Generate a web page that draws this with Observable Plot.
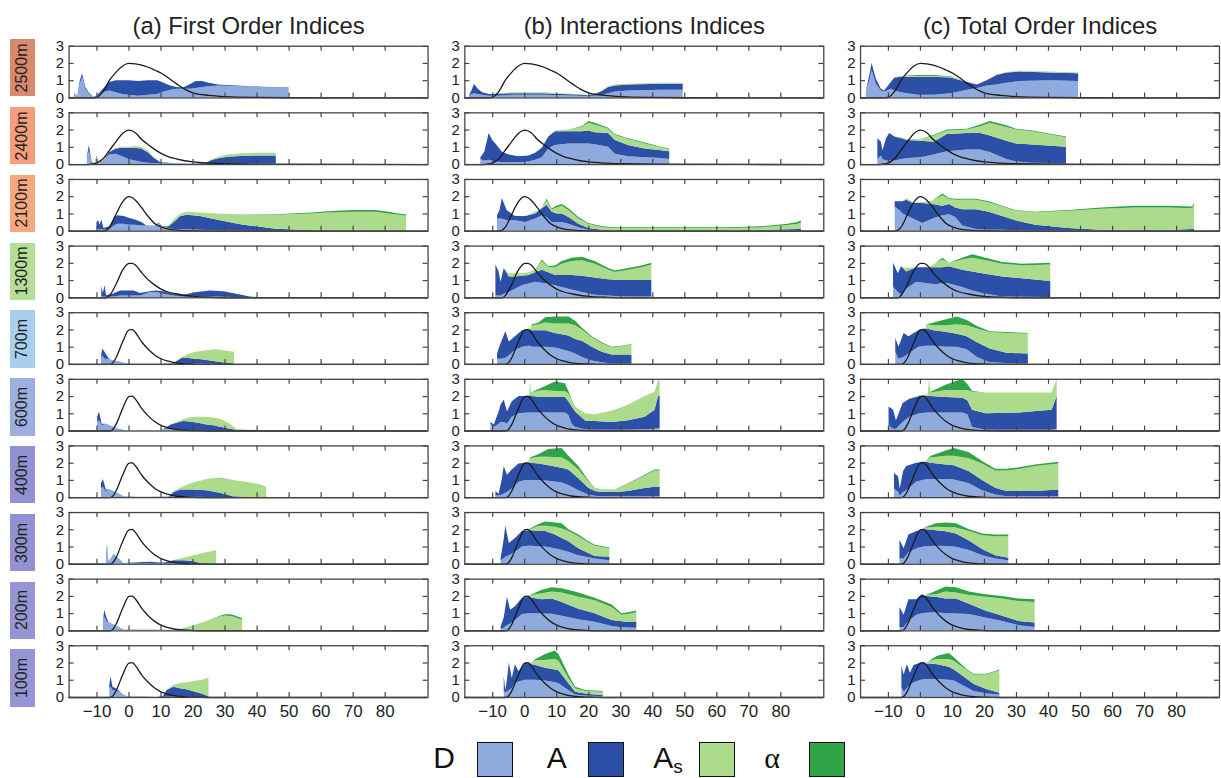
<!DOCTYPE html>
<html>
<head>
<meta charset="utf-8">
<script src="https://cdn.jsdelivr.net/npm/d3@7"></script>
<script src="https://cdn.jsdelivr.net/npm/@observablehq/plot@0.6"></script>
<style>
  html, body { margin: 0; padding: 0; background: #fff; overflow: hidden; }
  body { font-family: "Liberation Sans", Arial, sans-serif; }
  #wrap { position: relative; width: 1221px; height: 778px; overflow: hidden; }
  #chart { position: absolute; left: 0; top: 0; }
  .rowlab { position: absolute; left: 10px; width: 25px; display: flex; align-items: center; justify-content: center; }
  .rowlab span { transform: rotate(-90deg); white-space: nowrap; font-family: "Liberation Sans", Arial, sans-serif; font-size: 16px; line-height: 16px; color: #222; }
  .leglab { position: absolute; font-family: "Liberation Sans", Arial, sans-serif; font-size: 30px; line-height: 30px; color: #111; white-space: nowrap; }
  .legbox { position: absolute; width: 34px; height: 33px; border: 1.5px solid #111; }
</style>
</head>
<body>
<div id="wrap"><div id="chart"></div></div>
<script>
// ---------------- data ----------------
const columns = ["a", "b", "c"];
const columnTitles = ["(a) First Order Indices", "(b) Interactions Indices", "(c) Total Order Indices"];
const altitudes = ["2500m", "2400m", "2100m", "1300m", "700m", "600m", "400m", "300m", "200m", "100m"];
const altitudeColors = ["#d98a6e", "#f59d7c", "#f8a880", "#b7de97", "#a9cff0", "#9bb0df", "#9292d2", "#9292d2", "#9595d3", "#9595d3"];
const seriesNames = ["D", "A", "As", "α"];
const seriesColors = ["#8fabdd", "#2c4fa8", "#acdb8c", "#31a447"];
const xTicks = [-10, 0, 10, 20, 30, 40, 50, 60, 70, 80];
const yTicks = [0, 1, 2, 3];

// each row: [time, D, A, As, α]  (stacked contributions)
const first2500 = [[-17,0.3,0,0,0],[-16,0.1,0,0,0],[-15.2,0.8,0.2,0,0],[-14.5,1.2,0.2,0,0],[-13.5,0.5,0.1,0,0],[-12.5,0.25,0.05,0,0],[-11,0.05,0,0,0],[-10,0.05,0.05,0,0],[-8,0.3,0.2,0,0],[-6,0.4,0.5,0,0],[-4,0.3,0.7,0,0],[-2,0.2,0.8,0,0],[0,0.15,0.85,0,0],[3,0.1,0.85,0,0],[6,0.15,0.85,0,0],[9,0.2,0.8,0,0],[11,0.35,0.5,0,0],[13,0.45,0.25,0,0],[15,0.5,0.1,0,0],[17,0.5,0.08,0,0],[19,0.5,0.25,0,0],[21,0.55,0.4,0,0],[23,0.6,0.35,0,0],[25,0.65,0.2,0,0],[28,0.7,0.05,0,0],[35,0.65,0.03,0,0],[42,0.6,0.02,0,0],[50,0.55,0.02,0,0]];
const first2400 = [[-13,0.3,0.1,0,0],[-12.4,0.8,0.3,0,0],[-11.5,0.1,0.05,0,0],[-10.5,0,0,0,0],[-10,0.4,0.1,0,0],[-9.5,0,0,0,0],[-7.5,0.3,0,0,0],[-6,0.55,0.15,0,0],[-4,0.6,0.3,0.02,0],[-2,0.45,0.5,0.05,0],[0,0.3,0.65,0.05,0],[2,0.2,0.75,0.1,0],[4,0.12,0.78,0.1,0],[6,0.08,0.6,0.1,0],[8,0.05,0.3,0.05,0],[10,0.05,0.05,0,0],[15,0.05,0,0,0],[20,0.03,0,0,0],[24,0.02,0.05,0,0],[26,0.03,0.2,0.05,0],[28,0.03,0.3,0.1,0],[31,0.05,0.38,0.12,0],[35,0.05,0.42,0.15,0],[40,0.05,0.45,0.15,0],[46,0.05,0.45,0.15,0]];
const first2100 = [[-10,0.3,0.2,0,0],[-9.5,0.1,0.5,0,0],[-9,0.05,0.3,0,0],[-8.5,0.1,0.55,0,0],[-7.8,0.05,0.1,0,0],[-6,0.1,0.15,0,0],[-4.5,0.3,0.5,0,0],[-3.5,0.4,0.5,0,0],[-1.5,0.4,0.45,0,0],[0,0.35,0.4,0,0],[2,0.35,0.3,0,0],[4,0.3,0.2,0,0],[5.5,0.3,0.02,0,0],[8,0.3,0,0,0],[9.5,0.5,0,0,0],[10.5,0.25,0,0,0],[12.5,0.15,0.1,0.05,0],[14.4,0.1,0.45,0.15,0],[16.2,0.1,0.75,0.15,0],[18.2,0.08,0.85,0.17,0],[22.3,0.05,0.8,0.2,0],[28.5,0.03,0.57,0.38,0],[35.8,0.02,0.33,0.6,0],[46,0.01,0.1,0.82,0.02],[57.5,0,0.02,0.98,0.05],[62,0,0,1.05,0.07],[70,0,0,1.1,0.1],[77,0,0,1.1,0.1],[81.3,0,0,1.0,0.1],[84,0,0,0.92,0.08],[86.7,0,0,0.9,0.05]];
const first1300 = [[-8.5,0.05,0.6,0,0],[-8,0.05,0.2,0,0],[-7.5,0.05,0.65,0,0],[-7,0.02,0.1,0,0],[-5,0.05,0.15,0,0],[-2.6,0.1,0.3,0,0],[1.6,0.1,0.3,0,0],[3.6,0.1,0.15,0,0],[6.7,0.3,0.05,0,0],[8.7,0.3,0.1,0,0],[10.8,0.2,0.15,0,0],[14,0.1,0.1,0,0],[17.1,0.05,0.1,0,0],[21.3,0.05,0.25,0,0],[25.4,0.05,0.35,0,0],[29.6,0.03,0.32,0,0],[33.7,0.02,0.18,0,0],[37.8,0,0.05,0,0],[40,0,0.01,0,0]];
const first700 = [[-8.6,0.3,0.1,0,0],[-8.2,0.5,0.4,0,0],[-7.5,0.3,0.4,0,0],[-6.5,0.3,0.1,0,0],[-5.7,0.25,0,0,0],[-3,0.15,0,0,0],[-1,0.05,0,0,0],[2,0.02,0,0,0],[10,0.02,0,0,0],[13.5,0.02,0.03,0,0],[14.6,0.02,0.1,0.02,0],[16.7,0.02,0.33,0.05,0],[18.7,0.02,0.32,0.25,0],[20.8,0.02,0.28,0.4,0],[22.8,0.02,0.25,0.48,0],[27,0.01,0.15,0.7,0],[31.1,0,0.05,0.7,0],[33,0,0.02,0.68,0]];
const first600 = [[-9.8,0.5,0.3,0,0],[-9.2,0.6,0.5,0,0],[-8.4,0.3,0.1,0,0],[-7,0.4,0,0,0],[-5,0.25,0,0,0],[-3,0.1,0,0,0],[-1,0.02,0,0,0],[10,0.02,0,0,0],[11.5,0.1,0.05,0,0],[13.2,0.1,0.25,0,0],[15,0.05,0.4,0.05,0],[17.1,0.03,0.52,0.1,0],[19,0.02,0.5,0.23,0],[21.3,0.02,0.45,0.33,0],[24,0.01,0.36,0.43,0],[26.5,0,0.3,0.45,0],[29,0,0.2,0.45,0],[31.7,0,0.1,0.3,0],[33.7,0,0.05,0.05,0],[36,0,0.04,0,0],[42,0,0.02,0,0]];
const first400 = [[-8.6,0.5,0.3,0,0],[-8,0.6,0.45,0,0],[-7,0.3,0.1,0,0],[-6.5,0.5,0,0,0],[-4,0.3,0,0,0],[-1.5,0.05,0,0,0],[5,0.02,0,0,0],[12.5,0.02,0.02,0,0],[14.1,0.03,0.27,0.05,0],[16.2,0.03,0.42,0.1,0],[18,0.02,0.43,0.25,0],[20.2,0.02,0.43,0.4,0],[24.4,0.01,0.39,0.65,0],[28.5,0,0.25,0.85,0.02],[32.6,0,0.05,0.95,0],[36.7,0,0.02,0.88,0],[40.9,0,0.01,0.74,0],[43,0,0.01,0.6,0]];
const first300 = [[-7,0.5,0.1,0,0],[-6.7,0.9,0.2,0,0],[-6.3,0.1,0.05,0,0],[-5.6,0.3,0,0,0],[-4.7,0.6,0,0,0],[-3,0.3,0,0,0],[-1.5,0.05,0,0,0],[4.6,0.02,0.08,0,0],[7,0.02,0.1,0,0],[9.8,0.02,0.05,0,0],[11.1,0.02,0.05,0,0],[14.1,0.02,0.18,0.02,0],[17.2,0.01,0.19,0.15,0],[20.3,0.01,0.14,0.35,0],[22.5,0,0.05,0.55,0],[26.4,0,0.02,0.73,0],[27.4,0,0.02,0.78,0]];
const first200 = [[-8,0.3,0.1,0,0],[-7.6,0.8,0.4,0,0],[-6.8,0.5,0.2,0,0],[-6.3,0.5,0,0,0],[-4,0.3,0,0,0],[-1.5,0.05,0,0,0],[5,0.05,0,0,0],[12,0.03,0,0,0],[14.1,0.02,0.01,0,0],[16.2,0.01,0.03,0.06,0],[20.2,0,0.03,0.27,0],[24.4,0,0.02,0.53,0],[28.5,0,0.02,0.8,0.03],[30.6,0,0.02,0.85,0.08],[32.6,0,0.02,0.78,0.1],[35.5,0,0.02,0.6,0.08]];
const first100 = [[-6,0.5,0.2,0,0],[-5.6,0.6,0.6,0,0],[-5,0.4,0.2,0,0],[-4,0.4,0.1,0,0],[-2,0.2,0,0,0],[-0.5,0.05,0,0,0],[5,0.05,0,0,0],[9,0.02,0,0,0],[10.8,0.02,0.05,0,0],[11.9,0.02,0.38,0.05,0],[14,0.02,0.58,0.1,0],[16,0.01,0.5,0.3,0],[18,0.01,0.44,0.4,0],[22.8,0,0.2,0.8,0],[25,0,0.05,1.05,0.02]];

const inter2500 = [[-17.3,0.1,0,0,0],[-16.5,0.2,0.2,0,0],[-15.7,0.25,0.55,0,0],[-14.5,0.2,0.3,0,0],[-13.2,0.15,0.15,0,0],[-11,0.1,0.1,0,0],[-9,0.1,0.1,0.05,0],[-3.8,0.15,0.1,0.05,0],[1.3,0.15,0.1,0.05,0],[6,0.15,0.1,0.05,0],[11.7,0.12,0.08,0.05,0],[16.9,0.1,0.07,0.03,0],[20,0.08,0.05,0.02,0],[22,0.1,0.1,0.02,0],[24.2,0.15,0.22,0.03,0],[26.2,0.25,0.35,0.05,0],[28.3,0.35,0.35,0.05,0],[32.4,0.4,0.35,0.05,0],[42.8,0.45,0.35,0.05,0],[49.5,0.45,0.35,0.05,0]];
const inter2400 = [[-13.7,0.3,0.1,0,0],[-12.5,0.2,0.5,0,0],[-11.1,0.25,1.55,0,0],[-10,0.2,1.2,0,0],[-9,0.15,1.05,0,0],[-6.9,0.1,0.6,0,0],[-4.8,0.1,0.45,0,0],[-1.8,0.1,0.35,0,0],[1.3,0.15,0.35,0,0],[3.4,0.25,0.4,0,0],[5.5,0.4,0.55,0.02,0],[7.5,0.9,0.7,0.03,0],[9.6,1.1,0.8,0.05,0],[13.8,1.2,0.7,0.1,0],[18,1.2,0.7,0.25,0.05],[20,1.2,0.75,0.45,0.1],[22,1.15,0.7,0.45,0.1],[26.2,1.0,0.8,0.25,0.05],[28.3,0.6,0.8,0.3,0.05],[32.4,0.45,0.65,0.35,0.05],[37.6,0.4,0.5,0.3,0.05],[42.8,0.35,0.45,0.18,0.02],[45.3,0.3,0.45,0.13,0.02]];
const inter2100 = [[-8.5,0.7,0.2,0,0],[-7.7,0.7,0.5,0,0],[-7,0.7,1.2,0,0],[-5.5,0.6,0.6,0,0],[-2.9,0.6,0.25,0,0],[0.3,0.5,0.35,0,0],[3.4,0.7,0.3,0.1,0],[5.5,0.9,0.4,0.05,0],[7,0.8,0.7,0.25,0.1],[8.6,0.5,0.6,0.15,0.05],[10.1,0.5,0.5,0.35,0.1],[11.7,0.5,0.5,0.45,0.1],[13.8,0.4,0.4,0.4,0.1],[16.9,0.2,0.2,0.3,0.1],[20,0.05,0.1,0.25,0.05],[24.2,0.02,0.03,0.15,0.05],[28.3,0.02,0.01,0.12,0.05],[42.8,0.02,0.01,0.12,0.05],[63.5,0.02,0.01,0.12,0.05],[73.9,0.02,0.02,0.15,0.06],[82.2,0.03,0.05,0.25,0.07],[85.3,0.03,0.07,0.3,0.1],[86.4,0.03,0.1,0.35,0.12]];
const inter1300 = [[-9,0.1,1.8,0,0],[-8,0.1,1.4,0,0],[-7.4,0.1,0.8,0,0],[-6.4,0.2,1.5,0,0],[-4.8,0.3,0.9,0.2,0],[-2.9,0.5,0.7,0.2,0],[-0.8,0.7,0.55,0.15,0],[1.3,0.8,0.5,0.15,0],[3.4,0.9,0.55,0.15,0],[5.5,0.85,0.75,0.5,0.1],[7.5,0.8,0.65,0.3,0.05],[9.6,0.7,0.6,0.45,0.1],[11.7,0.6,0.7,0.65,0.15],[14.8,0.45,0.85,0.8,0.2],[18,0.3,0.95,0.9,0.2],[22,0.15,1.0,0.8,0.15],[26.2,0.1,0.95,0.55,0.1],[28.3,0.07,0.95,0.45,0.08],[32.4,0.05,0.95,0.6,0.1],[36.6,0.05,0.95,0.75,0.1],[39.7,0.05,0.95,0.9,0.1]];
const inter700 = [[-8.5,0.3,0.3,0,0],[-7.4,0.3,0.9,0,0],[-5.9,0.35,1.55,0,0],[-4.8,0.5,0.8,0,0],[-2.9,0.8,0.8,0,0],[-0.7,1.0,0.95,0,0],[1.3,1.05,0.95,0.05,0],[2,1.05,0.95,0.1,0],[2.4,1.0,0.95,0.3,0.05],[4.5,1.0,0.95,0.35,0.1],[6.5,1.0,0.95,0.45,0.3],[9.6,0.95,0.85,0.55,0.4],[13.8,0.75,0.9,0.7,0.4],[15.9,0.6,0.85,0.8,0.25],[18,0.4,0.95,0.65,0.1],[21.1,0.2,0.8,0.55,0.05],[24.2,0.1,0.6,0.5,0.05],[27.3,0.03,0.52,0.42,0.03],[30.4,0.02,0.53,0.47,0.03],[33.5,0.02,0.53,0.57,0.03]];
const inter600 = [[-10.6,0.4,0.1,0,0],[-9.5,0.2,0.15,0,0],[-8,0.4,0.7,0,0],[-7.4,0.5,1.0,0,0],[-6.4,0.5,1.3,0,0],[-5.4,0.4,0.7,0,0],[-3.9,0.8,0.9,0,0],[-1.8,1.0,1.0,0,0],[1.3,1.05,0.95,0,0],[1.6,1.05,0.95,0.2,0],[1.8,1.05,0.95,0.9,0],[2.1,1.05,0.95,0.2,0],[5.5,1.05,0.9,0.4,0.15],[9.6,1.05,0.9,0.35,0.55],[12.7,1.05,0.9,0.35,0.45],[13.8,0.9,0.8,0.45,0.15],[14.8,0.4,1.0,0.35,0.05],[15.9,0.2,0.9,0.3,0],[19,0.08,0.5,0.42,0],[22,0.05,0.5,0.4,0],[27.3,0.05,0.45,0.65,0],[32.4,0.05,0.55,0.9,0],[37.6,0.07,0.73,1.2,0],[40.7,0.1,1.1,1.05,0],[41.8,0.15,1.85,0.9,0],[42.3,0.15,1.9,0.85,0]];
const inter400 = [[-9,0.1,0.25,0,0],[-8,0.1,0.1,0,0],[-7,0.15,0.9,0,0],[-6.4,0.2,1.6,0,0],[-5.4,0.3,1.0,0,0],[-3.9,0.5,1.1,0,0],[-1.8,0.9,1.05,0,0],[0.3,1.0,1.0,0,0],[1.3,1.0,1.0,0.05,0],[1.8,1.0,1.0,0.25,0.05],[4.5,1.0,0.95,0.4,0.15],[7.5,0.95,0.9,0.5,0.45],[11.7,0.85,0.85,0.6,0.55],[13.8,0.7,0.9,0.5,0.3],[16.9,0.4,0.7,0.5,0.2],[20,0.15,0.4,0.4,0.05],[22,0.08,0.27,0.18,0.02],[24.2,0.05,0.25,0.13,0.02],[28.3,0.05,0.25,0.13,0.02],[32.4,0.05,0.3,0.42,0.03],[36.6,0.05,0.45,0.65,0.05],[40.7,0.05,0.55,0.95,0.05],[42.3,0.05,0.55,0.95,0.05]];
const inter300 = [[-7.4,0.2,0.1,0,0],[-6.5,0.3,1.0,0,0],[-5.9,0.4,1.8,0,0],[-4.8,0.5,0.7,0,0],[-2.9,0.7,0.8,0,0],[-0.7,1.0,0.9,0,0],[1.3,1.05,0.9,0.05,0],[2.4,1.05,0.9,0.1,0.05],[4.5,1.0,0.9,0.3,0.1],[6.5,1.0,0.9,0.3,0.25],[9.6,0.9,0.8,0.45,0.25],[11.7,0.8,0.7,0.55,0.3],[13.8,0.7,0.6,0.6,0.1],[16.9,0.5,0.4,0.7,0.1],[20,0.38,0.25,0.6,0.07],[22,0.3,0.15,0.6,0.05],[26.6,0.2,0.2,0.5,0.05]];
const inter200 = [[-7.4,0.1,0.1,0,0],[-6.4,0.15,0.6,0,0],[-5.4,0.3,1.65,0,0],[-4.4,0.4,0.8,0,0],[-2.9,0.6,0.8,0,0],[-0.7,0.95,0.95,0,0],[1.3,1.0,0.95,0.05,0],[2.4,1.0,0.9,0.15,0.05],[5.5,0.98,0.82,0.35,0.2],[8.6,0.96,0.89,0.4,0.25],[11.7,0.85,0.8,0.55,0.25],[16.9,0.65,0.6,0.7,0.25],[22,0.5,0.5,0.75,0.15],[27.3,0.25,0.35,0.75,0.15],[30.4,0.18,0.35,0.37,0.1],[32.4,0.16,0.34,0.45,0.1],[35,0.15,0.35,0.55,0.1]];
const inter100 = [[-6.4,0.3,0.9,0,0],[-5.9,0.3,0.1,0,0],[-5.4,0.3,0.7,0,0],[-4.8,0.4,1.6,0,0],[-3.9,0.5,0.6,0,0],[-2.9,0.8,1.1,0,0],[-1.8,0.9,0.6,0,0],[0.3,1.0,1.0,0,0],[2.4,1.0,0.9,0.1,0],[3.5,1.0,0.85,0.3,0.05],[6.5,0.95,0.75,0.45,0.35],[9.6,0.85,0.75,0.6,0.5],[10.7,0.8,0.75,0.55,0.4],[13.8,0.4,0.4,0.3,0.2],[15.9,0.15,0.15,0.2,0.1],[19,0.08,0.12,0.15,0.05],[24.6,0.05,0.05,0.2,0.05]];

const total2500 = [[-16.9,0.4,0,0,0],[-15.8,1.0,0.3,0,0],[-15.1,1.6,0.4,0,0],[-13.8,0.8,0.3,0,0],[-12.2,0.4,0.1,0,0],[-11.2,0.35,0.05,0,0],[-9.1,0.5,0.4,0,0],[-8,0.4,0.75,0.02,0],[-6,0.3,0.9,0.05,0],[-0.8,0.15,1.05,0.05,0.05],[4.3,0.15,1.05,0.05,0.05],[9.5,0.25,0.9,0.05,0.03],[14.7,0.45,0.45,0,0],[17.8,0.55,0.2,0,0],[20.8,0.7,0.3,0.02,0],[23.9,0.75,0.55,0.02,0],[27,0.85,0.6,0.03,0],[31.2,0.95,0.55,0.05,0],[40.5,1.0,0.45,0.05,0],[49.4,0.95,0.45,0.05,0]];
const total2400 = [[-13.3,0.3,1.2,0,0],[-12.2,0.5,0.8,0,0],[-11.7,0.3,0.5,0,0],[-10.6,0.2,1.3,0,0],[-9.6,0.2,1.6,0,0],[-8,0.2,1.4,0,0],[-5.9,0.3,1.2,0.05,0],[-3.9,0.35,1.05,0.05,0],[0.2,0.4,0.95,0.1,0],[4.3,0.55,0.75,0.35,0.05],[8.4,0.75,1.0,0.2,0.05],[14.7,0.85,0.95,0.2,0.05],[18.8,0.85,0.95,0.4,0.1],[21.8,0.7,0.95,0.75,0.1],[27,0.3,1.05,0.8,0.1],[30,0.15,1.05,0.8,0.05],[35.2,0.08,1.05,0.77,0.05],[45.6,0.05,0.95,0.55,0.05]];
const total2100 = [[-7.9,1.4,0.3,0,0],[-6.5,1.2,0.5,0,0],[-5.4,1.0,0.7,0,0],[-4.3,0.9,0.9,0.1,0],[-2.2,0.7,0.9,0.05,0],[0.8,0.45,1.15,0.05,0],[3.9,0.7,0.85,0.2,0],[7,0.9,0.55,0.6,0.1],[9.1,0.95,0.6,0.3,0.05],[11,0.8,0.55,0.45,0.05],[13.2,0.3,0.95,0.55,0.05],[17.4,0.1,1.15,0.55,0.05],[21.5,0.05,1.05,0.55,0.05],[25.7,0.05,0.8,0.55,0.05],[29.8,0.03,0.57,0.57,0.03],[36,0.02,0.33,0.72,0.03],[46.3,0.02,0.13,1.0,0.05],[56.6,0.02,0.03,1.22,0.08],[67,0.02,0.02,1.31,0.1],[77.3,0.02,0.02,1.31,0.1],[85,0.02,0.08,1.2,0.1],[85.6,0.02,0.1,1.4,0.08]];
const total1300 = [[-8.4,0.6,1.4,0,0],[-6.9,0.3,1.1,0,0],[-5.9,0.15,1.65,0,0],[-4.3,0.5,1.0,0.2,0],[-1.2,0.9,0.85,0,0],[2.9,0.8,0.95,0,0],[5,0.75,1.0,0.25,0],[7,0.85,0.9,0.45,0.1],[9.1,0.8,1.0,0.2,0],[13.2,0.6,1.0,0.6,0.1],[16.3,0.4,1.1,0.8,0.2],[19.4,0.25,1.15,0.8,0.15],[25.7,0.05,1.15,0.75,0.1],[31.8,0.03,1.07,0.75,0.1],[40.7,0.02,0.93,0.95,0.1]];
const total700 = [[-7.7,0.7,0.8,0,0],[-6.7,0.3,0.7,0,0],[-5.1,0.4,1.4,0,0],[-3.6,0.6,1.0,0,0],[-0.5,1.0,0.95,0.05,0],[1.8,1.05,1.0,0.05,0],[2,1.05,1.0,0.25,0],[4.3,1.05,0.9,0.3,0.15],[8.4,1.0,0.85,0.4,0.35],[11.5,1.0,0.75,0.55,0.45],[14.6,0.85,0.75,0.65,0.3],[17.8,0.4,0.85,0.8,0.15],[21.8,0.1,0.8,0.95,0.05],[27,0.05,0.6,1.15,0.05],[33.7,0.02,0.58,1.15,0.05]];
const total600 = [[-9.8,0.3,1.1,0,0],[-8.4,0.1,1.1,0,0],[-7.5,0.1,0.5,0,0],[-5.4,0.5,1.1,0,0],[-3.3,0.8,1.05,0,0],[-0.2,1.0,1.0,0.05,0],[2.4,1.05,0.95,0.1,0],[2.9,1.05,0.95,1.0,0],[3.3,1.05,0.95,0.2,0.05],[8,1.05,0.9,0.4,0.3],[13.2,1.05,0.85,0.45,0.65],[14.8,0.95,0.8,0.6,0.35],[16.3,0.2,1.0,1.05,0.05],[20.4,0.05,0.95,1.2,0],[30.8,0.05,1.0,1.15,0],[41.1,0.05,1.15,1.0,0],[42.7,0.1,1.9,1.0,0]];
const total400 = [[-8.1,0.5,0.9,0,0],[-6.8,0.3,0.9,0,0],[-6.3,0.1,0.4,0,0],[-5.3,0.3,1.2,0,0],[-4.3,0.4,1.4,0,0],[-1.2,0.9,1.1,0,0],[0.8,1.0,1.05,0.05,0],[1.9,1.05,1.0,0.05,0],[3.4,1.05,0.95,0.3,0.1],[8,1.05,0.85,0.5,0.3],[10.6,1.02,0.83,0.55,0.45],[15.3,0.8,0.7,0.75,0.35],[19.4,0.4,0.6,0.95,0.15],[23.5,0.15,0.4,1.0,0.1],[27,0.05,0.3,1.2,0.1],[29.8,0.05,0.3,1.25,0.1],[36,0.05,0.3,1.45,0.1],[43.2,0.05,0.4,1.5,0.1]];
const total300 = [[-6.4,0.3,1.1,0,0],[-5.1,0.3,0.6,0,0],[-3.6,0.65,1.05,0,0],[-1.1,0.9,1.0,0,0],[1,1.0,1.0,0.05,0],[1.9,1.02,0.98,0.1,0.05],[5,1.05,0.9,0.2,0.2],[8,1.03,0.85,0.25,0.27],[11.2,0.98,0.77,0.35,0.25],[15.3,0.8,0.55,0.55,0.1],[19.4,0.5,0.35,0.8,0.1],[23.5,0.3,0.2,1.1,0.1],[27.6,0.2,0.15,1.25,0.1]];
const total200 = [[-6.4,0.2,1.15,0,0],[-5.1,0.2,0.7,0,0],[-3.6,0.55,1.25,0,0],[-1.1,0.9,0.9,0,0],[0.5,1.0,1.1,0,0],[1.9,1.02,0.98,0.05,0],[5,1.05,0.9,0.15,0.2],[8,1.0,0.85,0.4,0.3],[11.2,0.98,0.87,0.35,0.3],[15.3,0.95,0.6,0.5,0.2],[20.4,0.75,0.4,0.8,0.15],[25.7,0.55,0.3,1.0,0.15],[30.8,0.3,0.25,1.15,0.15],[35.8,0.2,0.25,1.2,0.15]];
const total100 = [[-5.8,0.6,1.2,0,0],[-5.1,0.3,1.0,0,0],[-4.1,0.5,1.4,0,0],[-3.1,0.7,0.7,0,0],[-2,0.85,1.0,0,0],[0.2,1.0,1.0,0,0],[1.8,1.05,0.9,0,0],[2.8,1.05,0.9,0.15,0],[5.4,1.05,0.85,0.3,0.2],[9,1.0,0.75,0.45,0.35],[10.6,0.95,0.65,0.5,0.2],[14.7,0.55,0.5,0.5,0.05],[16.8,0.35,0.4,0.55,0.05],[20.9,0.2,0.25,0.85,0.05],[24.8,0.15,0.1,1.3,0.05]];

// discharge curves (black line): [time, value]
const hydro2500 = [[-18.7,0],[-12,0],[-10,0.05],[-8,0.4],[-6,1.05],[-4,1.5],[-2,1.85],[0,2.0],[2,1.98],[4,1.9],[6,1.78],[8,1.62],[10,1.45],[12,1.2],[15,0.8],[18,0.45],[20,0.3],[25,0.15],[30,0.08],[40,0.03],[50,0.01],[93,0]];
const hydro2400 = [[-18.7,0],[-13,0],[-12,0.02],[-10,0.1],[-8,0.35],[-6,0.85],[-4,1.35],[-2,1.8],[0,2.0],[2,1.85],[4,1.45],[6,1.15],[8,0.88],[10,0.65],[12,0.48],[15,0.32],[20,0.15],[25,0.08],[30,0.05],[40,0.02],[93,0]];
const hydro2100 = [[-18.7,0],[-8,0],[-6,0.25],[-4,1.0],[-2,1.7],[0,2.0],[2,1.8],[4,1.35],[6,0.85],[8,0.45],[10,0.25],[12,0.14],[15,0.06],[20,0.02],[30,0],[93,0]];
const hydro1300 = [[-18.7,0],[-7,0],[-6,0.15],[-4,0.8],[-2,1.6],[0,2.0],[1,2.0],[2,1.9],[4,1.45],[6,1.05],[8,0.75],[10,0.5],[12,0.35],[15,0.22],[20,0.08],[25,0.03],[30,0],[93,0]];
const hydroLow = [[-18.7,0],[-6,0],[-5,0.1],[-4,0.4],[-2,1.3],[0,2.0],[1,2.02],[2,1.85],[4,1.3],[6,0.88],[8,0.55],[10,0.33],[12,0.2],[15,0.08],[20,0.02],[25,0],[93,0]];

const firstOrder = [first2500, first2400, first2100, first1300, first700, first600, first400, first300, first200, first100];
const interactions = [inter2500, inter2400, inter2100, inter1300, inter700, inter600, inter400, inter300, inter200, inter100];
const totalOrder = [total2500, total2400, total2100, total1300, total700, total600, total400, total300, total200, total100];
const hydroByRow = [hydro2500, hydro2400, hydro2100, hydro1300, hydroLow, hydroLow, hydroLow, hydroLow, hydroLow, hydroLow];

// ---------------- build tables ----------------
const areaData = [];
[firstOrder, interactions, totalOrder].forEach((tables, ci) => {
  tables.forEach((tbl, ri) => {
    tbl.forEach(r => {
      seriesNames.forEach((s, si) => {
        areaData.push({col: columns[ci], row: altitudes[ri], x: r[0], series: s, v: r[si + 1]});
      });
    });
  });
});
const lineData = [];
columns.forEach(c => {
  hydroByRow.forEach((h, ri) => {
    h.forEach(p => lineData.push({col: c, row: altitudes[ri], x: p[0], q: p[1]}));
  });
});

// ---------------- layout ----------------
const X0 = -18.7, X1 = 93.4;
const marginTop = 41.7, panelBottom = 704.3;
const fyPad = 0.2287;
const rowStep = (panelBottom - marginTop) / (altitudes.length - fyPad);
const rowH = rowStep * (1 - fyPad);
const tickLenY = 5 * 3 / rowH;
const tickLenX = 5 * (X1 - X0) / 361;
const titleOf = Object.fromEntries(columns.map((c, i) => [c, columnTitles[i]]));
const fmtX = d => d < 0 ? "\u2212" + (-d) : String(d);
const fmtY = d => String(d);

const chart = Plot.plot({
  width: 1228,
  height: 735,
  marginLeft: 68,
  marginRight: 2,
  marginTop: marginTop,
  marginBottom: 735 - panelBottom,
  style: {fontFamily: "'Liberation Sans', Arial, sans-serif", color: "#222", background: "transparent"},
  x: {domain: [X0, X1]},
  y: {domain: [0, 3]},
  fx: {domain: columns, paddingInner: 0.0941, paddingOuter: 0},
  fy: {domain: altitudes, paddingInner: fyPad, paddingOuter: 0, axis: null},
  color: {domain: seriesNames, range: seriesColors},
  marks: [
    Plot.areaY(areaData, {x: "x", y: "v", z: "series", fill: "series", fx: "col", fy: "row", order: seriesNames, curve: "linear"}),
    Plot.line(lineData, {x: "x", y: "q", fx: "col", fy: "row", stroke: "#1a1a1a", strokeWidth: 1.3, curve: "monotone-x"}),
    Plot.ruleX(xTicks, {x: d => d, y1: 0, y2: tickLenY, stroke: "#444", strokeWidth: 1.2}),
    Plot.ruleX(xTicks, {x: d => d, y1: 3 - tickLenY, y2: 3, stroke: "#444", strokeWidth: 1.2}),
    Plot.ruleY(yTicks, {y: d => d, x1: X0, x2: X0 + tickLenX, stroke: "#444", strokeWidth: 1.2}),
    Plot.ruleY(yTicks, {y: d => d, x1: X1 - tickLenX, x2: X1, stroke: "#444", strokeWidth: 1.2}),
    Plot.frame({stroke: "#444", strokeWidth: 1.3}),
    Plot.axisX({ticks: xTicks, tickSize: 0, tickPadding: 8, fontSize: 17, label: null, tickFormat: fmtX, facetAnchor: "bottom"}),
    Plot.axisY({ticks: yTicks, tickSize: 0, tickPadding: 5, fontSize: 15, label: null, tickFormat: fmtY, facetAnchor: null}),
    Plot.axisFx({anchor: "top", tickSize: 0, tickPadding: 12, fontSize: 24, label: null, tickFormat: d => titleOf[d]})
  ]
});
document.getElementById("chart").appendChild(chart);

// ---------------- row labels ----------------
const wrap = document.getElementById("wrap");
altitudes.forEach((alt, i) => {
  const top = marginTop + i * rowStep;
  const d = document.createElement("div");
  d.className = "rowlab";
  d.style.top = (top - 2.5) + "px";
  d.style.height = (rowH + 5) + "px";
  d.style.background = altitudeColors[i];
  const s = document.createElement("span");
  s.textContent = alt;
  d.appendChild(s);
  wrap.appendChild(d);
});

// ---------------- legend ----------------
const legendLabelCenter = [444, 556.7, 668, 772];
const legendBoxLeft = [476.7, 588, 698.5, 808.5];
seriesNames.forEach((s, i) => {
  const lab = document.createElement("div");
  lab.className = "leglab";
  if (s === "As") {
    lab.innerHTML = "A<span style='font-size:19px;line-height:19px;vertical-align:-5px'>s</span>";
  } else {
    lab.textContent = s;
  }
  if (s === "α") lab.style.fontFamily = "'Liberation Serif', 'DejaVu Serif', serif";
  lab.style.top = "743px";
  wrap.appendChild(lab);
  const w = lab.getBoundingClientRect().width;
  lab.style.left = (legendLabelCenter[i] - w / 2) + "px";
  const b = document.createElement("div");
  b.className = "legbox";
  b.style.left = legendBoxLeft[i] + "px";
  b.style.top = "741.5px";
  b.style.background = seriesColors[i];
  wrap.appendChild(b);
});
</script>
</body>
</html>
